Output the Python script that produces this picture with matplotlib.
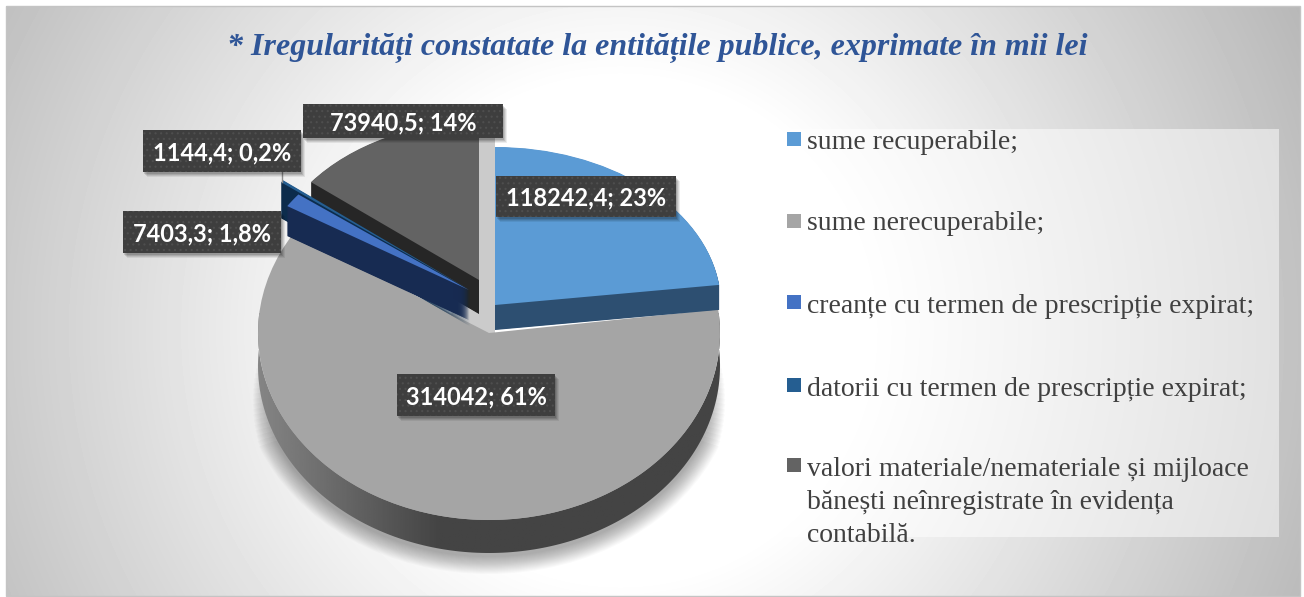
import numpy as np
import matplotlib
matplotlib.use('Agg')
import matplotlib.pyplot as plt
from matplotlib.patches import Wedge, Polygon, Rectangle
from matplotlib.transforms import Affine2D

plt.rcParams['hatch.linewidth'] = 0.8

# data
categories = ['sume recuperabile;', 'sume nerecuperabile;',
              'creanțe cu termen de prescripție expirat;',
              'datorii cu termen de prescripție expirat;',
              'valori materiale/nemateriale și mijloace\n'
              'bănești neînregistrate în evidența\ncontabilă.']
values = [118242.4, 314042, 7403.3, 1144.4, 73940.5]
value_labels = ['118242,4', '314042', '7403,3', '1144,4', '73940,5']
percent_labels = ['23%', '61%', '1,8%', '0,2%', '14%']
title = '* Iregularități constatate la entitățile publice, exprimate în mii lei'

# styles and layout, all in pixels of the 1304x597 image
top_colors = ['#5B9BD5', '#A5A5A5', '#4472C4', '#255E91', '#636363']
wall_colors = ['#2D4F71', '#444444', '#172B52', '#0C2C4C', '#262626']
# each slice sits in its own ellipse because of the perspective: cx, cy, rx, ry, depth
slice_geom = [(495, 305, 226, 158, 25),
              (489, 333, 231, 187, 33),
              (469, 290, 215, 157, 30),
              (470, 290, 238, 177, 36),
              (479, 280, 214, 158, 34)]
draw_order = [1, 4, 3, 2, 0]
label_boxes = [(496, 176, 676, 217), (397, 374, 555, 416), (123, 211, 281, 253),
               (143, 130, 301, 172), (303, 104, 503, 138)]
legend_marker_y = [139, 221, 302, 385, 465]
legend_baseline_y = [149, 230, 313, 396, 476]

W, H = 1304, 597
fig = plt.figure(figsize=(W / 100, H / 100), dpi=100, facecolor='white')
ax = fig.add_axes([0, 0, 1, 1])

# background
yy, xx = np.mgrid[6:596, 6:1300]
dist = np.hypot(xx - 620, yy - 330)
shade = np.clip(255 - 0.142 * np.maximum(dist - 250, 0), 0, 255) / 255
ax.imshow(shade, cmap='gray', vmin=0, vmax=1, extent=(6, 1300, 596, 6),
          aspect='auto', zorder=0)
ax.add_patch(Rectangle((6, 6), 1294, 590, fc='none', ec='#c4c4c4', lw=1, zorder=1))

# pie tops, every slice gets moved to its own ellipse below
wedges, _ = ax.pie(values, startangle=-90, counterclock=True, colors=top_colors,
                   radius=1, wedgeprops={'linewidth': 0})
ax.set_aspect('auto')
ax.set_axis_off()


def ellipse_tr(i, d=0, grow=0):
    cx, cy, rx, ry, _ = slice_geom[i]
    return Affine2D().scale(rx + grow, ry + grow).translate(cx, cy + d) + ax.transData


# soft shadow below the big slice, the outer layers are narrower so the ends fade
for g in range(18):
    sh = Wedge((0, 0), 1, 22 - g * 1.5, 158 + g * 1.5, fc='black', alpha=0.02, lw=0,
               zorder=2, transform=ellipse_tr(1, 37, 17 - g))
    ax.add_patch(sh)

# gap between the pulled apart slices, the shadow shows there
ax.add_patch(Polygon([(479, 138), (495, 138), (495, 338), (450, 322)], fc='#CBCBCB',
                     lw=0, zorder=3))

z = 4
for i in draw_order:
    cx, cy, rx, ry, depth = slice_geom[i]
    w = wedges[i]
    if i == 1:
        # outer wall of the big slice goes from light to dark
        t = np.radians(np.linspace(w.theta1, w.theta2, 200))
        top = np.column_stack([cx + rx * np.cos(t), cy + ry * np.sin(t)])
        bottom = top[::-1] + [0, depth]
        band = Polygon(np.vstack([top, bottom]), transform=ax.transData)
        xs = np.linspace(cx - rx, cx + rx, 256)
        ramp = np.interp(xs, [cx - rx, cx - 50, cx + rx], [0x85, 0x44, 0x44]) / 255
        im = ax.imshow(ramp[None, :], cmap='gray', vmin=0, vmax=1, aspect='auto',
                       extent=(cx - rx, cx + rx, cy + ry + depth + 2, cy - 20), zorder=z)
        im.set_clip_path(band)
    else:
        for d in np.arange(depth, 0, -0.5):
            ax.add_patch(Wedge((0, 0), 1, w.theta1, w.theta2, fc=wall_colors[i], lw=0,
                               zorder=z, transform=ellipse_tr(i, d)))
    z += 1
    w.set_transform(ellipse_tr(i))
    w.set_zorder(z)
    z += 1

# leader of the smallest slice
ax.plot([282, 282], [172, 182], color='#8c8c8c', lw=1, zorder=29)

# data labels
for box, val, pct in zip(label_boxes, value_labels, percent_labels):
    x0, y0, x1, y1 = box
    for s, a in zip([5, 4, 3, 2], [0.07, 0.09, 0.11, 0.13]):
        ax.add_patch(Rectangle((x0 + s - 1, y0 + s), x1 - x0, y1 - y0, fc='black',
                               alpha=a, lw=0, zorder=30))
    ax.add_patch(Rectangle((x0, y0), x1 - x0, y1 - y0, fc='#3E3E3E', ec='#4E4E4E',
                           hatch='...', lw=0, zorder=31))
    ax.text((x0 + x1) / 2, (y0 + y1) / 2 + 1.5, f'{val}; {pct}', color='white',
            family='Lato', weight='bold', fontsize=17, ha='center', va='center',
            zorder=32)

# legend
ax.add_patch(Rectangle((764, 129), 515, 408, fc='white', alpha=0.5, lw=0, zorder=1))
for name, color, my, by in zip(categories, top_colors, legend_marker_y, legend_baseline_y):
    ax.add_patch(Rectangle((787, my - 7), 14, 14, fc=color, lw=0, zorder=2))
    lines = name.split('\n')
    for k, line in enumerate(lines):
        ax.text(807, by + k * 33, line, color='#404040', family='Liberation Serif',
                fontsize=20, ha='left', va='baseline', zorder=3)

ax.text(657, 48, title, color='#2F5597', family='Liberation Serif', weight='bold',
        style='italic', fontsize=23, ha='center', va='center', zorder=3)

ax.set_xlim(0, W)
ax.set_ylim(H, 0)
fig.savefig('out.png', dpi=100)
